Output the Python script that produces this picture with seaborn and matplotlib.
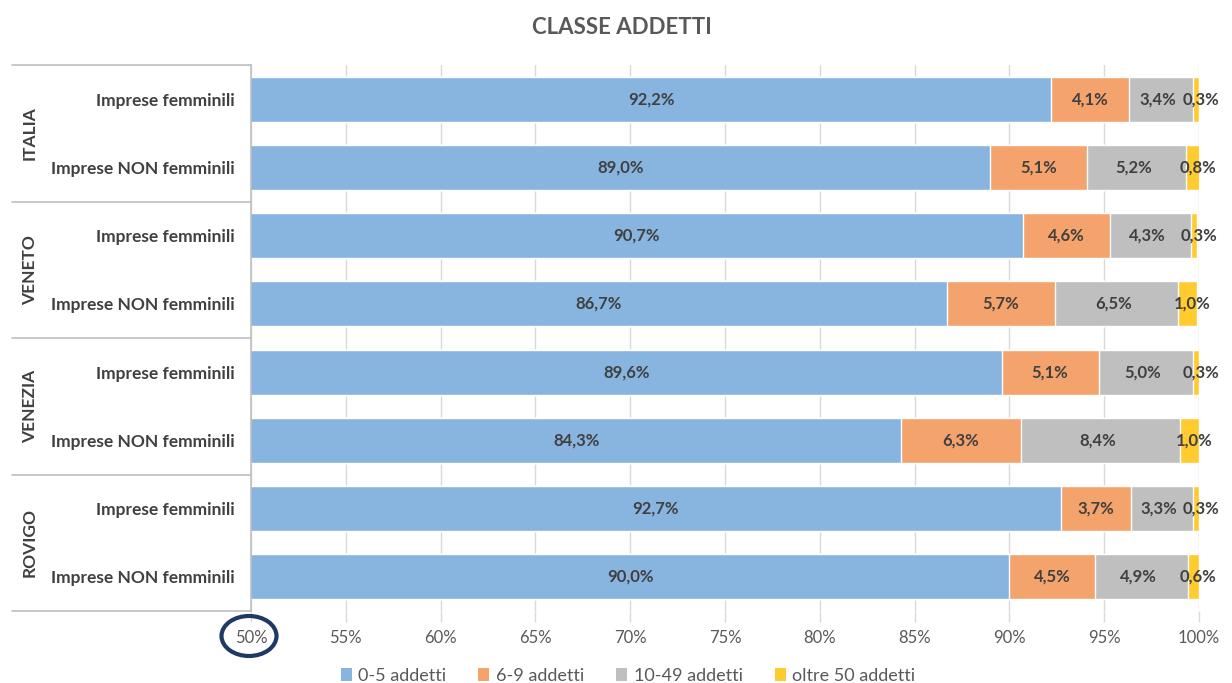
import numpy as np
import pandas as pd
import matplotlib
matplotlib.use("Agg")
import matplotlib.pyplot as plt
import matplotlib.transforms as mtransforms
from matplotlib.patches import Ellipse, Patch
from matplotlib.lines import Line2D
import seaborn as sns

# data
regions = ["ITALIA", "VENETO", "VENEZIA", "ROVIGO"]
imprese = ["Imprese femminili", "Imprese NON femminili"]
classi = ["0-5 addetti", "6-9 addetti", "10-49 addetti", "oltre 50 addetti"]
v_0_5 = [92.2, 89.0, 90.7, 86.7, 89.6, 84.3, 92.7, 90.0]
v_6_9 = [4.1, 5.1, 4.6, 5.7, 5.1, 6.3, 3.7, 4.5]
v_10_49 = [3.4, 5.2, 4.3, 6.5, 5.0, 8.4, 3.3, 4.9]
v_50 = [0.3, 0.8, 0.3, 1.0, 0.3, 1.0, 0.3, 0.6]
colors = ["#88B4E0", "#F4A36D", "#BFBFBF", "#FFCB2F"]

sns.set_theme(style="white")
plt.rcParams['font.family'] = ['Lato', 'DejaVu Sans']

rows = [f"{r}|{i}" for r in regions for i in imprese]
df = pd.DataFrame({"row": rows, "a": v_0_5, "b": v_6_9, "c": v_10_49, "d": v_50})
series = [df["a"], df["b"], df["c"], df["d"]]
cums = np.cumsum(np.array(series), axis=0)

fig = plt.figure(figsize=(12.32, 6.83), dpi=100)
ax = fig.add_axes([251/1232, 1 - 611/683, (1199 - 251)/1232, (611 - 65)/683])

# stacked bars: draw cumulative totals from the back
for k in range(3, -1, -1):
    sns.barplot(x=cums[k], y=df["row"], color=colors[k], orient="h",
                width=0.66, ax=ax, saturation=1, zorder=2)

ax.set_xlim(50, 100)
ax.set_ylim(7.5, -0.5)
ax.set_xticks(np.arange(50, 101, 5))
ax.set_xticklabels([f"{t}%" for t in range(50, 101, 5)])
ax.xaxis.grid(True, color="#D9D9D9", linewidth=1, zorder=0)
ax.set_axisbelow(True)
ax.set_xlabel("")
ax.set_ylabel("")
ax.set_yticks(range(len(rows)))
ax.set_yticklabels([r.split("|")[1] for r in rows])
ax.tick_params(axis="y", length=0, pad=12, labelsize=12.5, labelcolor="#404040")
ax.tick_params(axis="x", length=8, color="#D9D9D9", width=1, pad=6,
               labelsize=12, labelcolor="#595959", bottom=True)
for lab in ax.get_yticklabels():
    lab.set_fontweight("bold")
for s in ["top", "right", "bottom"]:
    ax.spines[s].set_visible(False)
ax.spines["left"].set_color("#BFBFBF")
ax.spines["left"].set_linewidth(1.2)

# data labels
starts = np.vstack([np.full(len(rows), 50.0), cums[:-1]])
for k in range(4):
    for j in range(len(rows)):
        left = max(starts[k][j], 50)
        right = cums[k][j]
        xc = (left + right) / 2
        if k == 3:
            xc += 0.25
        elif k == 2:
            xc -= 0.15
        ax.text(xc, j, f"{series[k][j]:.1f}%".replace(".", ","),
                ha="center", va="center", fontsize=12, fontweight="bold",
                color="#404040", zorder=5)

# group boxes on the left
tr = mtransforms.blended_transform_factory(fig.transFigure, ax.transData)
for b in [-0.5, 1.5, 3.5, 5.5, 7.5]:
    fig.add_artist(Line2D([12/1232, 251/1232], [b, b], transform=tr,
                          color="#BFBFBF", linewidth=1.2))
for g, r in enumerate(regions):
    fig.text(30/1232, 2*g + 0.5, r, transform=tr, rotation=90, ha="center",
             va="center", fontsize=12.5, fontweight="bold", color="#404040")

# title
fig.text(622/1232, 1 - 27/683, "CLASSE ADDETTI", ha="center", va="center",
         fontsize=16, fontweight="bold", color="#595959")

# circle around 50%
fig.add_artist(Ellipse((249/1232, 1 - 636/683), 55/1232, 40/683,
                       transform=fig.transFigure, fill=False,
                       edgecolor="#1F3864", linewidth=3))

handles = [Patch(facecolor=c, edgecolor="none") for c in colors]
fig.legend(handles, classi, loc="center", bbox_to_anchor=(628/1232, 1 - 676/683),
           ncol=4, frameon=False, fontsize=13, handlelength=0.6, handleheight=0.7,
           handletextpad=0.35, columnspacing=1.8, labelcolor="#595959")

fig.savefig("out.png", dpi=100)
